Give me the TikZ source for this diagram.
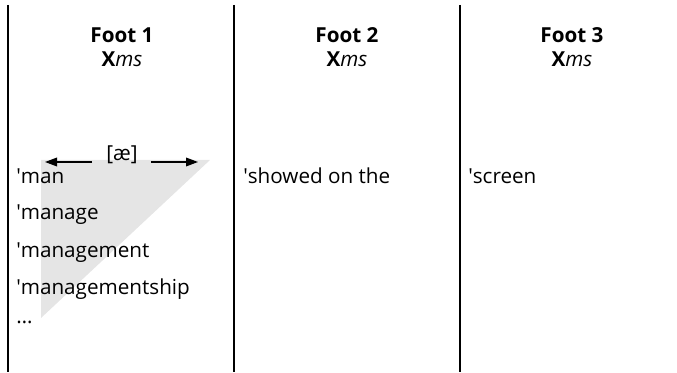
\documentclass[tikz,border=0pt]{standalone}
\usepackage{fontspec}
\setmainfont{Open Sans}
\usepackage{xcolor}
\usetikzlibrary{positioning, arrows.meta}

\begin{document}
\begin{tikzpicture}[
  x=0.75pt, y=-0.75pt,
  every node/.style={font=\fontsize{15.5}{18}\selectfont, inner sep=0pt},
  head/.style={font=\fontsize{15.5}{18}\selectfont\bfseries, align=center},
  word/.style={anchor=base west},
  rule/.style={line width=1.5pt},
  arr/.style={-{Triangle[length=9pt, width=6.5pt]}, line width=1pt}
]
\useasboundingbox (0,0) rectangle (677,373);
% ── shaded wedge ───────────────────────────────
\fill[black!10] (41,160) -- (210,160) -- (41,318) -- cycle;
% ── column rules ───────────────────────────────
\draw[rule] (8,5) -- (8,372);
\draw[rule] (234,5) -- (234,372);
\draw[rule] (460,5) -- (460,372);
% ── headers ────────────────────────────────────
\node[head, anchor=base] (f1) at (122,67) {Foot 1\\X\textit{\mdseries ms}};
\node[head, anchor=base] (f2) at (347,67) {Foot 2\\X\textit{\mdseries ms}};
\node[head, anchor=base] (f3) at (572,67) {Foot 3\\X\textit{\mdseries ms}};
% ── vowel span ─────────────────────────────────
\node[anchor=base] (ae) at (122,161) {[æ]};
\coordinate (aeL) at (45,162);
\coordinate (aeR) at (198,162);
\draw[arr] (ae.west |- aeL) ++(-14,0) -- (aeL);
\draw[arr] (ae.east |- aeR) ++(13,0) -- (aeR);
% ── foot 1 words ───────────────────────────────
\node[word] (w1) at (16,184) {\textquotesingle man};
\node[below=27pt of w1.base west, word] (w2) {\textquotesingle manage};
\node[below=28pt of w2.base west, word] (w3) {\textquotesingle management};
\node[below=27.75pt of w3.base west, word] (w4) {\textquotesingle managementship};
\node[below=21.75pt of w4.base west, word] (w5) {\dots};
% ── feet 2 and 3 ───────────────────────────────
\node[word] (s1) at (243,184) {\textquotesingle showed on the};
\node[word] (t1) at (468,184) {\textquotesingle screen};
\end{tikzpicture}
\end{document}
